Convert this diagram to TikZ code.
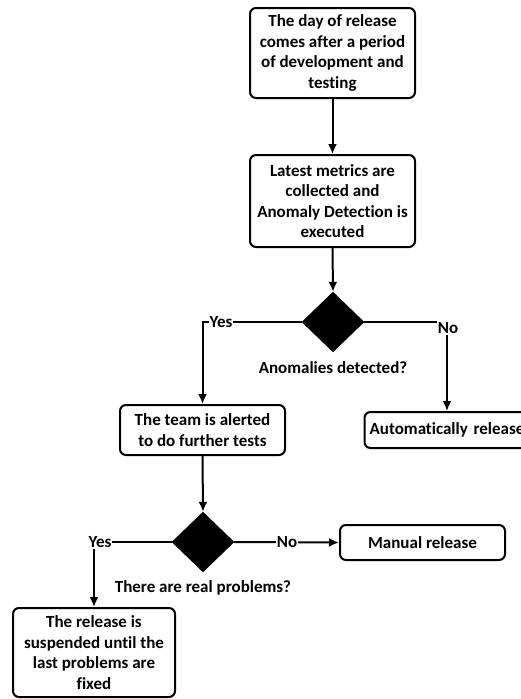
\documentclass[tikz,border=0pt]{standalone}
\usepackage{fontspec}
\setmainfont{Carlito}[Ligatures={NoCommon}]
\usetikzlibrary{shapes,arrows.meta}

\tikzset{
    box/.style={draw, line width=2pt, rounded corners=6pt, align=center, inner sep=2pt},
    decision/.style={diamond, fill=black, draw=black, inner sep=0pt, minimum width=62pt, minimum height=60pt},
    answer/.style={fill=white, inner sep=1pt},
    flow/.style={line width=2pt, -{Latex[length=10pt,width=9pt]}}
}

\begin{document}
\begin{tikzpicture}[x=1pt, y=-1pt, font=\fontsize{17}{20.5}\selectfont\bfseries]
    \clip (0,0) rectangle (521,699);
    \fill [white] (0,0) rectangle (521,699);
    % boxes
    \node[box, minimum width=165pt, minimum height=90pt] (day) at (332.5,53) {The day of release\\comes after a period\\of development and\\testing};
    \node[box, minimum width=165pt, minimum height=92pt] (metrics) at (332.5,201) {Latest metrics are\\collected and\\Anomaly Detection is\\executed};
    \node[decision] (anomaly) at (333,322) {};
    \node[] (anomalytext) at (333,368) {Anomalies detected?};
    \node[box, minimum width=165pt, minimum height=50pt] (alerted) at (202.5,430) {The team is alerted\\to do further tests};
    \node[box, minimum width=165pt, minimum height=36pt, text width=160pt] (autorel) at (447,430) {Automatically release};
    \node[decision] (problems) at (203,542) {};
    \node[] (problemstext) at (203,588) {There are real problems?};
    \node[box, minimum width=165pt, minimum height=35pt] (manual) at (422.5,542.5) {Manual release};
    \node[box, minimum width=162pt, minimum height=89pt] (suspended) at (94,652.5) {The release is\\suspended until the\\last problems are\\fixed};
    % connectors
    \draw [flow] (day.south) -- (metrics.north);
    \draw [flow] (metrics.south) -- (anomaly.north);
    \draw [flow] (anomaly.west) -| (alerted.north);
    \draw [flow] (anomaly.east) -| (autorel.north);
    \draw [flow] (alerted.south) -- (problems.north);
    \draw [flow] (problems.east) -- (manual.west);
    \draw [flow] (problems.west) -| (suspended.north);
    % answers
    \node[answer] (yesa) at (221,322) {Yes};
    \node[answer] (noa) at (448,328) {No};
    \node[answer] (yesb) at (100,542) {Yes};
    \node[answer] (nob) at (287,542) {No};
\end{tikzpicture}
\end{document}
